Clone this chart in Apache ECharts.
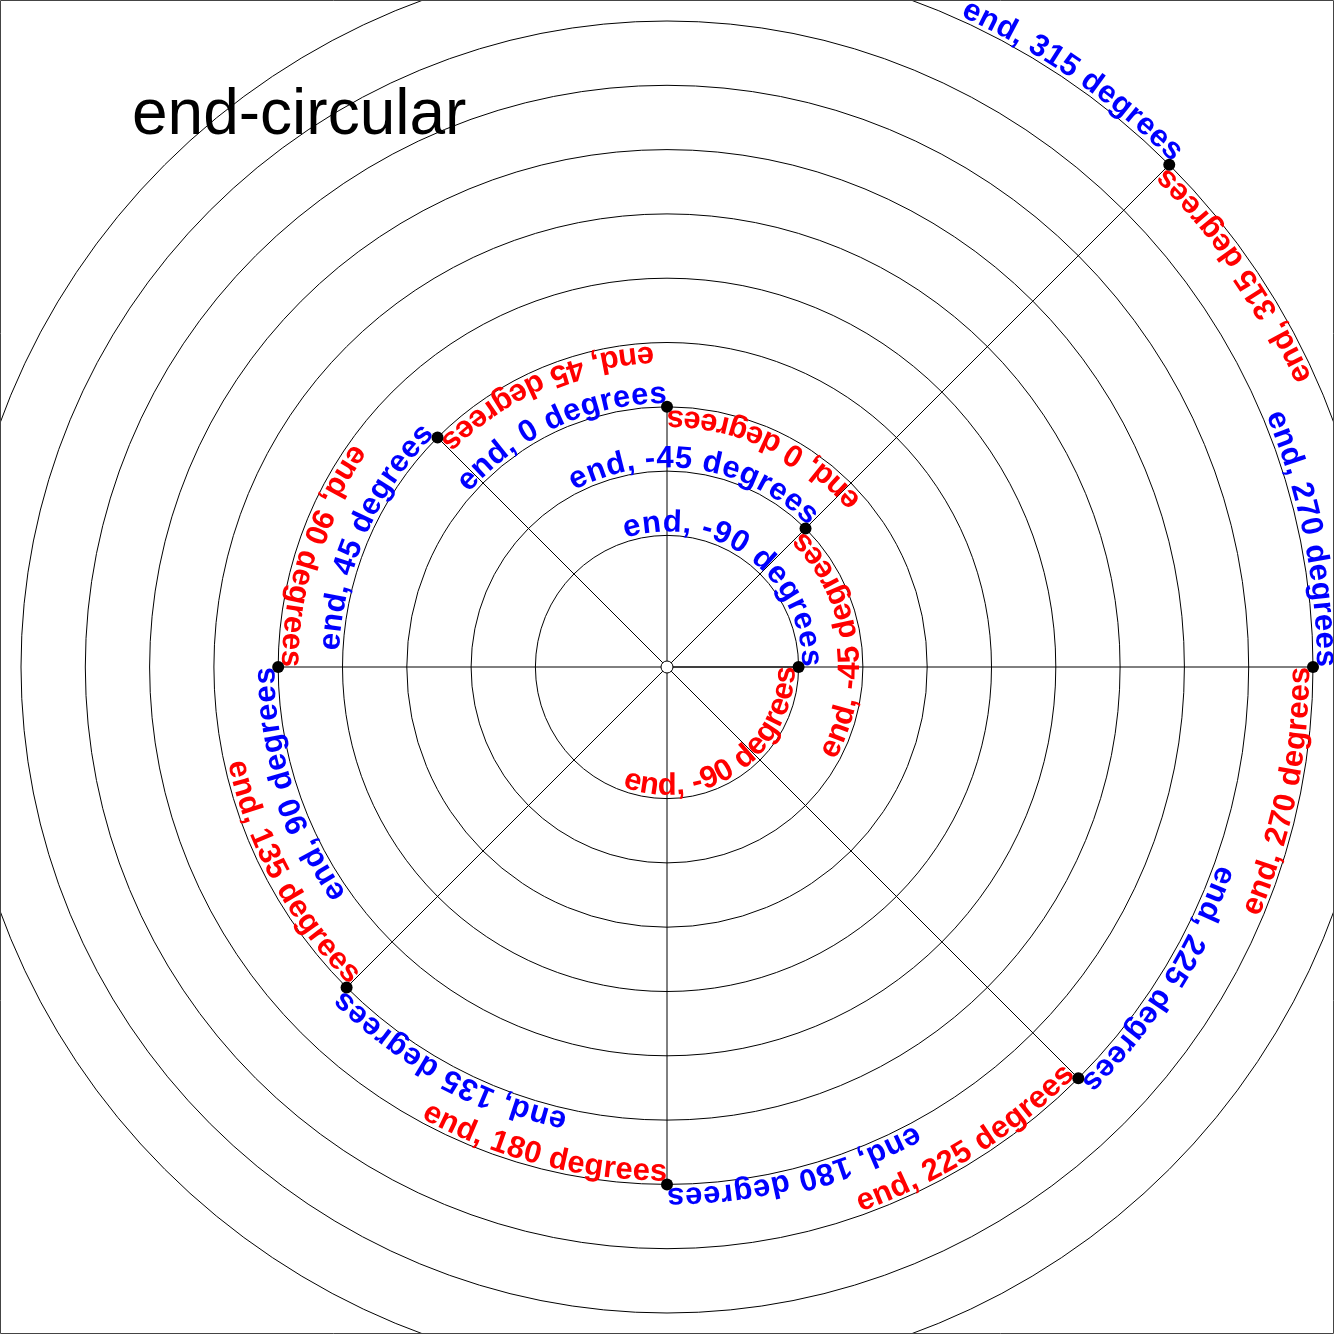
<!DOCTYPE html>
<html>
<head>
<meta charset="utf-8">
<title>end-circular</title>
<script src="https://cdn.jsdelivr.net/npm/echarts@6/dist/echarts.min.js"></script>
<style>
  html, body { margin: 0; padding: 0; background: #fff; }
  #chart { width: 1334px; height: 1334px; }
</style>
</head>
<body>
<div id="chart"></div>
<script>
// angle in degrees: 0 at the top, counter-clockwise
const angles = [-90, -45, 0, 45, 90, 135, 180, 225, 270, 315];
const radii = [2, 3, 4, 5, 6, 7, 8, 9, 10, 11];
const labels = [
  'end, -90 degrees', 'end, -45 degrees', 'end, 0 degrees', 'end, 45 degrees',
  'end, 90 degrees', 'end, 135 degrees', 'end, 180 degrees', 'end, 225 degrees',
  'end, 270 degrees', 'end, 315 degrees'
];
// rings 0 and 1 are not drawn
const ringColors = ['rgba(0,0,0,0)', 'rgba(0,0,0,0)', '#000', '#000', '#000', '#000',
  '#000', '#000', '#000', '#000', '#000', '#000'];

const FONT_SIZE = 31;
const FONT_FAMILY = '"Liberation Sans", Arial, sans-serif';
const FONT = 'bold ' + FONT_SIZE + 'px ' + FONT_FAMILY;
const SPACING = 0.4;
const GAP = 1.5;

const measureCtx = document.createElement('canvas').getContext('2d');
measureCtx.font = FONT;

const points = radii.map((r, i) => [r, angles[i]]);
const textItems = radii.map((r, i) => [r, angles[i], i]);

// text running along the circle, ending at the point
function circularText(params, api, color, outside) {
  const cs = params.coordSys;
  const p = api.coord([api.value(0), api.value(1)]);
  const dx = p[0] - cs.cx, dy = cs.cy - p[1];
  const R = Math.sqrt(dx * dx + dy * dy);
  const theta = Math.atan2(dy, dx);
  const chars = labels[api.value(2)].split('');
  const widths = chars.map(ch => measureCtx.measureText(ch).width);
  const total = widths.reduce((a, b) => a + b, 0) + SPACING * (chars.length - 1);
  const base = outside ? R + GAP : R - GAP;
  const mid = outside ? base + 0.35 * FONT_SIZE : base - 0.35 * FONT_SIZE;
  let s = 0;
  const children = chars.map((ch, i) => {
    const c = s + widths[i] / 2;
    s += widths[i] + SPACING;
    const off = (total - c) / base;
    const phi = outside ? theta + off : theta - off;
    return {
      type: 'text',
      x: cs.cx + mid * Math.cos(phi),
      y: cs.cy - mid * Math.sin(phi),
      rotation: outside ? phi - Math.PI / 2 : phi + Math.PI / 2,
      style: {
        text: ch, fill: color, font: FONT,
        fontSize: FONT_SIZE, fontWeight: 'bold', fontFamily: FONT_FAMILY,
        align: 'center', verticalAlign: 'middle'
      }
    };
  });
  return { type: 'group', children: children };
}

const chart = echarts.init(document.getElementById('chart'), null, { renderer: 'canvas' });

chart.setOption({
  backgroundColor: '#fff',
  animation: false,
  title: {
    text: 'end-circular',
    left: 132,
    top: 84,
    padding: 0,
    textStyle: { fontFamily: '"Liberation Sans", Arial, sans-serif', fontWeight: 'normal', fontSize: 64, color: '#000' }
  },
  graphic: [{
    type: 'rect',
    shape: { x: 0.5, y: 0.5, width: 1333, height: 1333 },
    style: { fill: 'none', stroke: '#444', lineWidth: 1 },
    z: 100
  }],
  polar: { center: [667, 667], radius: [3, 710.3] },
  angleAxis: {
    type: 'value', min: 0, max: 360, startAngle: 90, clockwise: false,
    axisLine: { show: false }, axisTick: { show: false },
    axisLabel: { show: false }, splitLine: { show: false }
  },
  radiusAxis: {
    type: 'value', min: 0, max: 11, interval: 1,
    axisLine: { show: false }, axisTick: { show: false }, axisLabel: { show: false },
    splitLine: { show: true, lineStyle: { color: ringColors, width: 1 } }
  },
  series: [
    {
      // spokes from the centre to each point
      type: 'custom', coordinateSystem: 'polar', z: 2, silent: true,
      data: points,
      renderItem: function (params, api) {
        const a = api.coord([0, api.value(1)]);
        const b = api.coord([api.value(0), api.value(1)]);
        return {
          type: 'line',
          shape: { x1: a[0], y1: a[1], x2: b[0], y2: b[1] },
          style: { stroke: '#000', lineWidth: 1 }
        };
      }
    },
    {
      type: 'custom', coordinateSystem: 'polar', z: 3, silent: true,
      data: textItems,
      renderItem: (params, api) => circularText(params, api, '#ff0000', false)
    },
    {
      type: 'custom', coordinateSystem: 'polar', z: 3, silent: true,
      data: textItems,
      renderItem: (params, api) => circularText(params, api, '#0000ff', true)
    },
    {
      type: 'scatter', coordinateSystem: 'polar', z: 4, silent: true,
      data: points,
      symbol: 'circle', symbolSize: 12,
      itemStyle: { color: '#000', opacity: 1 }
    },
    {
      // origin marker
      type: 'custom', coordinateSystem: 'polar', z: 5, silent: true,
      data: [[0, 0]],
      renderItem: function (params) {
        return {
          type: 'circle',
          shape: { cx: params.coordSys.cx, cy: params.coordSys.cy, r: 6 },
          style: { fill: '#fff', stroke: '#000', lineWidth: 1 }
        };
      }
    }
  ]
});
</script>
</body>
</html>
